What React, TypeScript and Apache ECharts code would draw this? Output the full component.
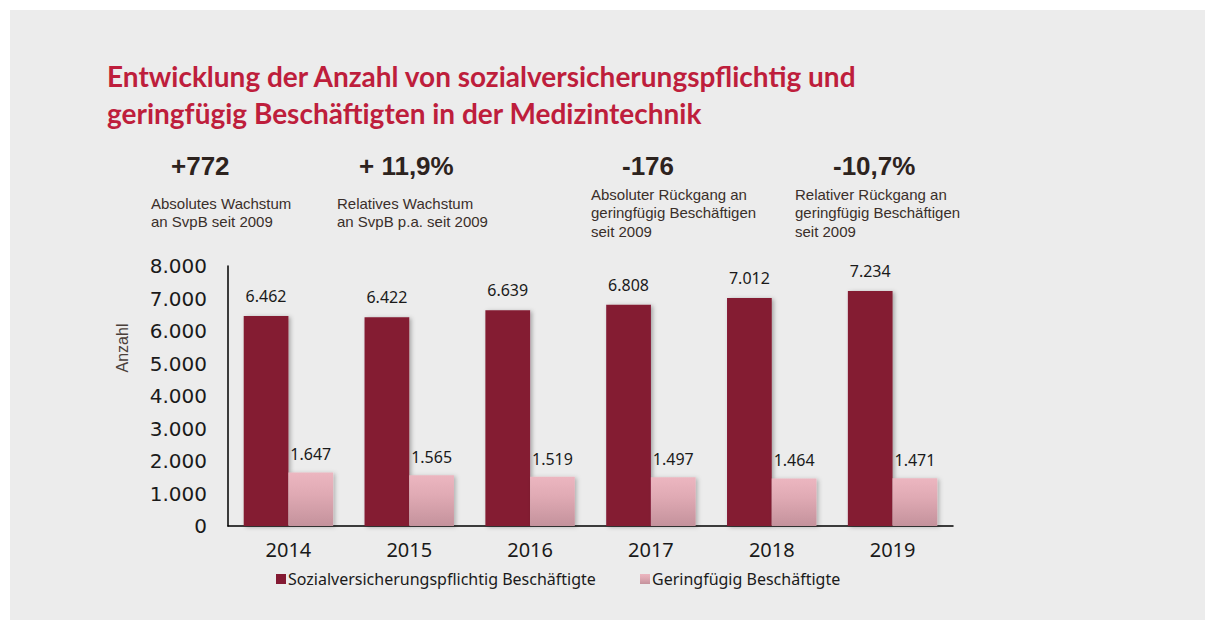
import React, { useEffect, useRef } from "react";
import * as echarts from "echarts";

const categories = ["2014", "2015", "2016", "2017", "2018", "2019"];
const svpbValues = [6462, 6422, 6639, 6808, 7012, 7234];
const geringValues = [1647, 1565, 1519, 1497, 1464, 1471];
const seriesNames = ["Sozialversicherungspflichtig Beschäftigte", "Geringfügig Beschäftigte"];
const titleLines = [
  "Entwicklung der Anzahl von sozialversicherungspflichtig und",
  "geringfügig Beschäftigten in der Medizintechnik",
];
const kpiValues = ["+772", "+ 11,9%", "-176", "-10,7%"];
const kpiTexts = [
  "Absolutes Wachstum\nan SvpB seit 2009",
  "Relatives Wachstum\nan SvpB p.a. seit 2009",
  "Absoluter Rückgang an\ngeringfügig Beschäftigen\nseit 2009",
  "Relativer Rückgang an\ngeringfügig Beschäftigen\nseit 2009",
];
const yAxisName = "Anzahl";

const fmt = (v: number) => {
  const s = Math.round(v).toString();
  return s.replace(/\B(?=(\d{3})+(?!\d))/g, ".");
};

export default function App() {
  const ref = useRef<HTMLDivElement>(null);
  useEffect(() => {
    if (!ref.current) return;
    const chart = echarts.init(ref.current, null, { renderer: "svg" });
    const kpiNumX = [171, 359, 622, 833];
    const kpiTxtX = [151, 337, 591, 795];
    const kpiTxtY = [194, 194, 185, 185];
    const graphics: any[] = [
      { type: "rect", shape: { x: 10, y: 10, width: 1195, height: 610 }, style: { fill: "#ececec" }, z: -10 },
      {
        type: "text",
        x: 107,
        y: 57,
        style: {
          text: titleLines.join("\n"),
          font: "bold 28px Lato",
          lineHeight: 37,
          fill: "#be1e3c",
        },
      },
      {
        type: "text",
        x: 122,
        y: 348,
        rotation: Math.PI / 2,
        style: {
          text: yAxisName,
          font: "16px 'Liberation Sans'",
          fill: "#4a3f3a",
          align: "center",
          verticalAlign: "middle",
        },
      },
    ];
    kpiValues.forEach((v, i) => {
      graphics.push({
        type: "text",
        x: kpiNumX[i],
        y: 153,
        style: { text: v, font: "bold 26px 'Liberation Sans'", fill: "#2d231e" },
      });
      graphics.push({
        type: "text",
        x: kpiTxtX[i],
        y: kpiTxtY[i],
        style: { text: kpiTexts[i], font: "15px 'Liberation Sans'", lineHeight: 18.5, fill: "#3a2f2a" },
      });
    });
    chart.setOption({
      animation: false,
      backgroundColor: "#ffffff",
      graphic: graphics,
      legend: [
        {
          data: [seriesNames[0]],
          left: 271,
          top: 566,
          icon: "rect",
          itemWidth: 10,
          itemHeight: 10,
          itemGap: 5,
          textStyle: { fontFamily: "Noto Sans", fontSize: 16, color: "#1a1a1a", padding: [0, 0, 0, -3] },
        },
        {
          data: [seriesNames[1]],
          left: 635,
          top: 566,
          icon: "rect",
          itemWidth: 10,
          itemHeight: 10,
          textStyle: { fontFamily: "Noto Sans", fontSize: 16, color: "#1a1a1a", padding: [0, 0, 0, -3] },
        },
      ],
      grid: { left: 228, top: 266, width: 725, height: 260 },
      xAxis: {
        type: "category",
        data: categories,
        axisLine: { show: true, lineStyle: { color: "#000", width: 1.5 } },
        axisTick: { show: false },
        axisLabel: { fontFamily: "Noto Sans", fontSize: 20, color: "#1a1a1a", margin: 13 },
      },
      yAxis: {
        type: "value",
        min: 0,
        max: 8000,
        interval: 1000,
        splitLine: { show: false },
        axisTick: { show: false },
        axisLine: { show: true, lineStyle: { color: "#000", width: 1.5 } },
        axisLabel: {
          fontFamily: "DejaVu Sans",
          fontSize: 20,
          color: "#1a1a1a",
          margin: 21,
          formatter: (v: number) => fmt(v),
        },
      },
      series: [
        {
          name: seriesNames[0],
          type: "bar",
          data: svpbValues,
          barGap: "0%",
          barCategoryGap: "26%",
          itemStyle: {
            color: "#841a33",
            shadowBlur: 4,
            shadowColor: "rgba(0,0,0,0.3)",
            shadowOffsetX: 2,
            shadowOffsetY: 1,
          },
          label: {
            show: true,
            position: "top",
            distance: 12,
            fontFamily: "Noto Sans",
            fontSize: 16,
            color: "#1a1a1a",
            formatter: (p: any) => fmt(p.value),
          },
        },
        {
          name: seriesNames[1],
          type: "bar",
          data: geringValues,
          itemStyle: {
            color: new echarts.graphic.LinearGradient(0, 0, 0, 1, [
              { offset: 0, color: "#ecb6c0" },
              { offset: 0.4, color: "#e0aab4" },
              { offset: 1, color: "#c4929c" },
            ]),
            shadowBlur: 4,
            shadowColor: "rgba(0,0,0,0.25)",
            shadowOffsetX: 2,
            shadowOffsetY: 1,
          },
          label: {
            show: true,
            position: "top",
            distance: 10,
            fontFamily: "Noto Sans",
            fontSize: 16,
            color: "#1a1a1a",
            formatter: (p: any) => fmt(p.value),
          },
        },
      ],
    });
    return () => chart.dispose();
  }, []);
  return (
    <div style={{ position: "absolute", left: 0, top: 0, width: 1215, height: 622, background: "#fff" }}>
      <div ref={ref} style={{ width: 1215, height: 622 }} />
    </div>
  );
}
